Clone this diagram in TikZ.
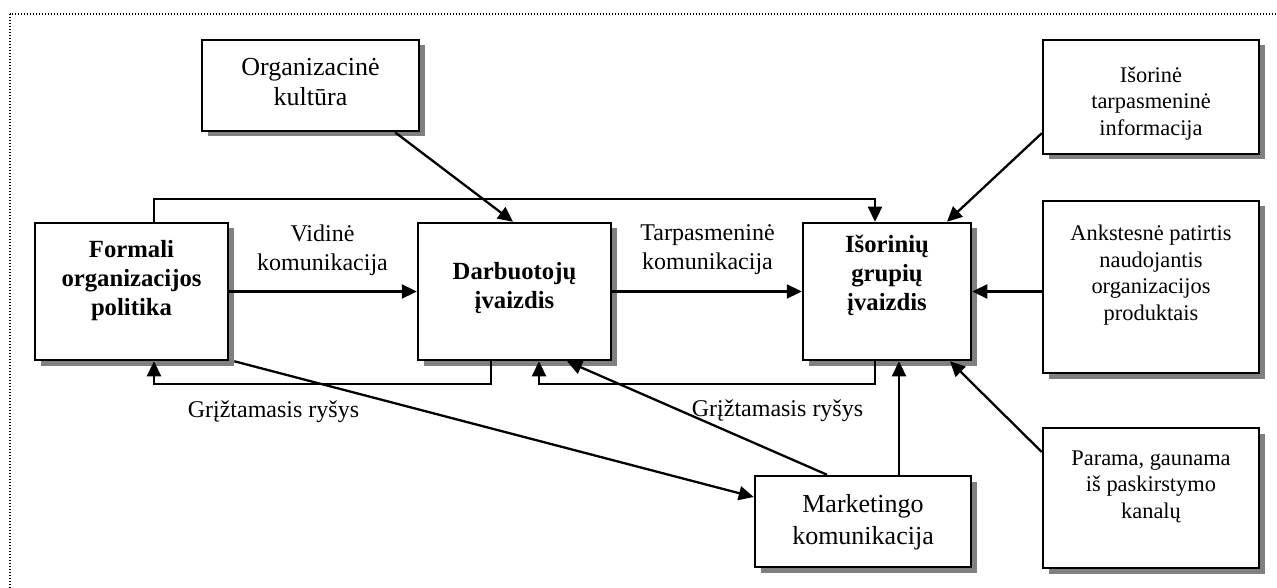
\documentclass[tikz,border=0pt]{standalone}
\usepackage{fontspec}
\setmainfont{Liberation Serif}
\usetikzlibrary{arrows.meta,shadows,calc}

% box text: width, height, top padding, lines
\newcommand{\bxt}[4]{\parbox[c][#2pt][t]{#1pt}{\centering\vspace*{#3pt}\strut#4\par}}

\tikzset{
  bx/.style={draw, line width=2.5pt, fill=white, inner sep=0pt,
    drop shadow={shadow xshift=5.5pt, shadow yshift=-5.5pt, fill=black!50, opacity=1}},
  arr/.style={line width=2.3pt, -{Triangle[length=15pt,width=14pt]}},
  lbl/.style={align=center, font=\fontsize{24}{29}\selectfont, inner sep=0pt},
  small/.style={font=\fontsize{22.4}{26.5}\selectfont},
  large/.style={font=\fontsize{26}{30}\selectfont},
  strong/.style={font=\fontsize{24.7}{29}\selectfont\bfseries},
}

\begin{document}
\begin{tikzpicture}[x=1pt, y=-1pt]
\useasboundingbox (0,0) rectangle (1277,588);
\fill[white] (0,0) rectangle (1277,588);
\clip (0,0) rectangle (1277,588);

% dotted frame
\draw[line width=1.3pt, dash pattern=on 1.3pt off 1.7pt] (10,14) rectangle (1330,650);

% boxes
\node[bx, large] (org) at (310.5,85.5) {\bxt{217}{91}{15}{Organizacinė\\kultūra}};
\node[bx, small] (itp) at (1151,97) {\bxt{216}{114}{23.5}{Išorinė\\tarpasmeninė\\informacija}};
\node[bx, small] (ank) at (1151,287) {\bxt{216}{172}{21}{Ankstesnė patirtis\\naudojantis\\organizacijos\\produktais}};
\node[bx, small] (par) at (1151,498) {\bxt{216}{140}{18.5}{Parama, gaunama\\iš paskirstymo\\kanalų}};
\node[bx, font=\fontsize{26}{32}\selectfont] (mkt) at (863,521.5) {\bxt{216}{91}{13.6}{Marketingo\\komunikacija}};
\node[bx, strong] (form) at (131.5,291.5) {\bxt{193}{137}{13.7}{Formali\\organizacijos\\politika}};
\node[bx, strong] (darb) at (514.5,291.5) {\bxt{193}{137}{36}{Darbuotojų\\įvaizdis}};
\node[bx, strong] (isor) at (887,291.5) {\bxt{168}{137}{9.5}{Išorinių\\grupių\\įvaizdis}};

% labels
\node[lbl] (vid) at (322.5,250) {Vidinė\\komunikacija};
\node[lbl] (tarp) at (707.5,250) {Tarpasmeninė\\komunikacija};
\node[lbl, anchor=base] (gr1) at (273.5,417) {Grįžtamasis ryšys};
\node[lbl, anchor=base] (gr2) at (777.5,416) {Grįžtamasis ryšys};

% connectors
\draw[arr] (form.east) -- (darb.west);
\draw[arr] (darb.east) -- (isor.west);
\draw[arr] (ank.west |- isor.east) -- (isor.east);
\draw[arr] ([xshift=22.5pt]form.north) |- ($([xshift=-12pt]isor.north)+(0,-23)$) -- ([xshift=-12pt]isor.north);
\draw[arr] ([xshift=-23.5pt]darb.south) -- ++(0,23) -| ([xshift=22.5pt]form.south);
\draw[arr] ([xshift=-12pt]isor.south) -- ++(0,23) -| ([xshift=24.5pt]darb.south);
\draw[arr] ([xshift=84.5pt]org.south) -- ([xshift=-1.5pt]darb.north);
\draw[arr] ([yshift=22pt]itp.south west) -- ([xshift=60pt]isor.north);
\draw[arr] ([yshift=46pt]par.west) -- ([xshift=63pt]isor.south);
\draw[arr] ([xshift=36pt]mkt.north) -- ([xshift=36pt]mkt.north |- isor.south);
\draw[arr] ([xshift=-36pt]mkt.north) -- ([xshift=52.5pt]darb.south);
\draw[arr] ([xshift=5pt]form.south east) -- ([yshift=24.5pt]mkt.west);
\end{tikzpicture}
\end{document}
